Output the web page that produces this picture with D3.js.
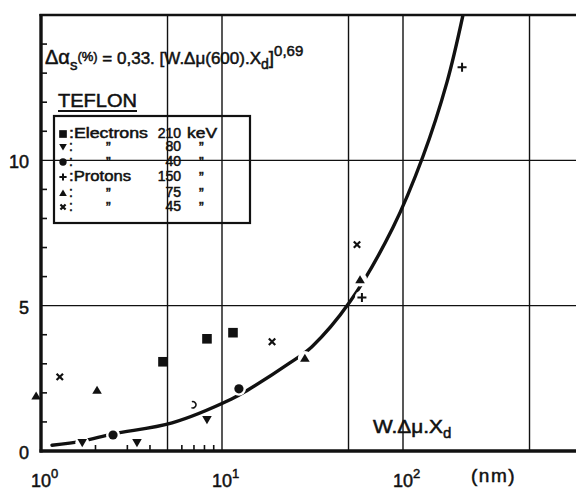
<!DOCTYPE html>
<html><head><meta charset="utf-8">
<script src="https://cdn.jsdelivr.net/npm/d3@7"></script>
<style>
body{margin:0;background:#fff}
text{font-family:"Liberation Sans",Arial,sans-serif;fill:#111;stroke:#111;stroke-width:0.5}
</style>
</head><body>
<svg id="chart" width="576" height="491"></svg>
<script>
// ---- data ----
const xTickValues = [1, 10, 100];
const xTickExponents = ["0", "1", "2"];
const yTickValues = [0, 5, 10];
const yTickLabels = ["0", "5", "10"];
const xGridValues = [5, 10, 50, 100, 500];
const yGridValues = [5, 10];
const yMinorTicks = [1,2,3,4,6,7,8,9,11,12,13,14];
const xMinorTicks = [2,3,4,6,7,8,9];

// Electrons 210 keV (square)
const e210X = [4.72, 8.26, 11.5];
const e210Y = [3.07, 3.86, 4.07];
// Electrons 80 keV (down triangle)
const e80X = [1.69, 3.39, 8.26];
const e80Y = [0.28, 0.28, 1.07];
// Electrons 40 keV (dot)
const e40X = [2.5, 12.4];
const e40Y = [0.55, 2.14];
// Electrons 40 keV, damaged (open) dot
const e40OpenX = [6.9];
const e40OpenY = [1.59];
// Protons 150 keV (+)
const p150X = [59.3, 212];
const p150Y = [5.28, 13.2];
// Protons 75 keV (up triangle)
const p75X = [0.94, 2.04, 28.7, 57.9];
const p75Y = [1.9, 2.1, 3.2, 5.9];
// Protons 45 keV (x)
const p45X = [1.27, 18.9, 55.7];
const p45Y = [2.55, 3.76, 7.1];

// fitted curve (hand drawn)
const curveX = [1.15, 1.69, 2.5, 5.3, 11.3, 13.9, 23.7, 31.4, 51, 88, 129, 175, 214];
const curveY = [0.2, 0.34, 0.59, 0.97, 1.79, 2.1, 3.03, 3.59, 5.14, 7.69, 10.14, 12.69, 14.97];

const legendSymbols = ["square", "down", "dot", "plus", "up", "cross"];
const legendNames = [":Electrons", ":", ":", ":Protons", ":", ":"];
const legendDitto = ["", "\u201D", "\u201D", "", "\u201D", "\u201D"];
const legendEnergies = ["210", "80", "40", "150", "75", "45"];
const legendUnits = ["keV", "\u201D", "\u201D", "\u201D", "\u201D", "\u201D"];

// ---- drawing ----
const svg = d3.select("#chart");
const W = 576, H = 491;
const x = d3.scaleLog().domain([1, 1000]).range([41, 584]);
const y = d3.scaleLinear().domain([0, 15]).range([451, 15]);
const x0 = x(1), yTop = y(15), yBot = y(0);

const gCurve = svg.append("g");
const gHalo = svg.append("g");
const gGrid = svg.append("g");
const gMarks = svg.append("g");
const gAxes = svg.append("g");
const gText = svg.append("g");

// curve
const pts = curveX.map((v, i) => [x(v), y(curveY[i])]);
gCurve.append("path")
  .attr("d", d3.line().curve(d3.curveCatmullRom.alpha(0.5))(pts))
  .attr("fill", "none").attr("stroke", "#111").attr("stroke-width", 3.4)
  .attr("stroke-linecap", "round");

// series list
const series = [
  {sym: "square", xs: e210X, ys: e210Y},
  {sym: "down", xs: e80X, ys: e80Y},
  {sym: "dot", xs: e40X, ys: e40Y},
  {sym: "open", xs: e40OpenX, ys: e40OpenY},
  {sym: "plus", xs: p150X, ys: p150Y},
  {sym: "up", xs: p75X, ys: p75Y},
  {sym: "cross", xs: p45X, ys: p45Y}
];

// white halos cut the curve where the draftsman left gaps around markers
series.forEach(s => {
  s.xs.forEach((v, i) => {
    if (v < 1) return;
    gHalo.append("circle").attr("cx", x(v)).attr("cy", y(s.ys[i]))
      .attr("r", s.sym === "square" || s.sym === "cross" ? 0 : 7).attr("fill", "#fff");
  });
});

// grid
gGrid.selectAll("line.v").data(xGridValues).join("line")
  .attr("x1", d => x(d)).attr("x2", d => x(d)).attr("y1", yTop).attr("y2", yBot)
  .attr("stroke", "#111").attr("stroke-width", 1.4);
gGrid.selectAll("line.h").data(yGridValues).join("line")
  .attr("x1", x0).attr("x2", W).attr("y1", d => y(d)).attr("y2", d => y(d))
  .attr("stroke", "#111").attr("stroke-width", 1.4);

function drawMarker(g, sym, cx, cy, scale) {
  const k = scale || 1;
  if (sym === "square") {
    g.append("rect").attr("x", cx - 4.8 * k).attr("y", cy - 4.8 * k)
      .attr("width", 9.6 * k).attr("height", 9.6 * k).attr("fill", "#111");
  } else if (sym === "dot") {
    g.append("circle").attr("cx", cx).attr("cy", cy).attr("r", 4.6 * k).attr("fill", "#111");
  } else if (sym === "open") {
    g.append("path").attr("d", d3.arc()({innerRadius: 2.4, outerRadius: 4, startAngle: -0.3, endAngle: 3.6}))
      .attr("transform", `translate(${cx},${cy})`).attr("fill", "#111");
  } else if (sym === "down" || sym === "up") {
    const s = 4.8 * k, dir = sym === "up" ? -1 : 1;
    g.append("path").attr("d", `M${cx - s},${cy - dir * s * 0.8}L${cx + s},${cy - dir * s * 0.8}L${cx},${cy + dir * s * 0.9}Z`)
      .attr("fill", "#111");
  } else if (sym === "plus") {
    const s = 4.5 * k;
    g.append("path").attr("d", `M${cx - s},${cy}H${cx + s}M${cx},${cy - s}V${cy + s}`)
      .attr("stroke", "#111").attr("stroke-width", 2);
  } else if (sym === "cross") {
    const s = 3.2 * k;
    g.append("path").attr("d", `M${cx - s},${cy - s}L${cx + s},${cy + s}M${cx + s},${cy - s}L${cx - s},${cy + s}`)
      .attr("stroke", "#111").attr("stroke-width", 2.2);
  }
}

series.forEach(s => s.xs.forEach((v, i) => drawMarker(gMarks, s.sym, x(v), y(s.ys[i]))));

// axes / frame
gAxes.append("line").attr("x1", x0).attr("x2", x0).attr("y1", yTop - 1).attr("y2", yBot + 1.5)
  .attr("stroke", "#111").attr("stroke-width", 3.4);
gAxes.append("line").attr("x1", x0 - 1.5).attr("x2", W).attr("y1", yBot).attr("y2", yBot)
  .attr("stroke", "#111").attr("stroke-width", 3.4);
gAxes.append("line").attr("x1", x0 - 1.5).attr("x2", W).attr("y1", yTop).attr("y2", yTop)
  .attr("stroke", "#111").attr("stroke-width", 2.4);
// minor ticks
gAxes.selectAll("line.ym").data(yMinorTicks).join("line")
  .attr("x1", x0).attr("x2", x0 + 6).attr("y1", d => y(d)).attr("y2", d => y(d))
  .attr("stroke", "#111").attr("stroke-width", 1.6);
gAxes.selectAll("line.xm").data(xMinorTicks).join("line")
  .attr("x1", d => x(d)).attr("x2", d => x(d)).attr("y1", yBot).attr("y2", yBot - 6)
  .attr("stroke", "#111").attr("stroke-width", 1.6);

// y tick labels
gText.selectAll("text.yl").data(yTickValues).join("text")
  .attr("x", 29).attr("y", d => y(d) + 8).attr("text-anchor", "end")
  .attr("font-size", 18).text((d, i) => yTickLabels[i]);

// x tick labels: 10^n
xTickValues.forEach((v, i) => {
  const t = gText.append("text").attr("x", x(v) - 10).attr("y", 487).attr("font-size", 18);
  t.append("tspan").text("10");
  t.append("tspan").attr("dy", -9).attr("font-size", 13).text(xTickExponents[i]);
});
gText.append("text").attr("x", 471).attr("y", 482).attr("font-size", 19)
  .attr("letter-spacing", 1.5).text("(nm)");

// axis title inside plot
{
  const t = gText.append("text").attr("x", 373).attr("y", 433).attr("font-size", 18);
  t.append("tspan").attr("textLength", 70).attr("lengthAdjust", "spacingAndGlyphs").text("W.\u0394\u03BC.X");
  t.append("tspan").attr("dy", 5).attr("font-size", 15).text("d");
}

// formula
{
  const t = gText.append("text").attr("x", 45).attr("y", 64).attr("font-size", 17);
  t.append("tspan").attr("font-size", 20).text("\u0394\u03B1");
  t.append("tspan").attr("dy", 6).attr("font-size", 15).text("s");
  t.append("tspan").attr("dy", -9).attr("font-size", 13).text("(%)");
  t.append("tspan").attr("dy", 3).text(" = 0,33. [W.\u0394\u03BC(600).X");
  t.append("tspan").attr("dy", 5).attr("font-size", 14).text("d");
  t.append("tspan").attr("dy", -5).attr("font-size", 19).text("]");
  t.append("tspan").attr("dy", -8).attr("font-size", 15).text("0,69");
}

// TEFLON title
gText.append("text").attr("x", 58).attr("y", 107).attr("font-size", 19)
  .attr("textLength", 79).attr("lengthAdjust", "spacingAndGlyphs").text("TEFLON");
gText.append("line").attr("x1", 58).attr("x2", 137).attr("y1", 111).attr("y2", 111)
  .attr("stroke", "#111").attr("stroke-width", 2);

// legend
const lg = svg.append("g");
lg.append("rect").attr("x", 54).attr("y", 116).attr("width", 196).attr("height", 107)
  .attr("fill", "none").attr("stroke", "#111").attr("stroke-width", 2.2);
const rowBase = [138, 151, 166, 181, 197, 211];
legendSymbols.forEach((sym, i) => {
  drawMarker(lg, sym, 63, rowBase[i] - 4, 0.8);
  const nameT = lg.append("text").attr("x", 69).attr("y", rowBase[i]).attr("font-size", 14).text(legendNames[i]);
  if (legendNames[i].length > 1) nameT.attr("textLength", legendNames[i] === ":Electrons" ? 79 : 62).attr("lengthAdjust", "spacingAndGlyphs");
  if (legendDitto[i]) lg.append("text").attr("x", 106).attr("y", rowBase[i] + 1).attr("font-size", 14).text(legendDitto[i]);
  lg.append("text").attr("x", 181).attr("y", rowBase[i]).attr("text-anchor", "end").attr("font-size", 14).text(legendEnergies[i]);
  const u = lg.append("text").attr("x", legendUnits[i] === "keV" ? 187 : 199).attr("y", rowBase[i] + (legendUnits[i] === "keV" ? 0 : 1)).attr("font-size", 14).text(legendUnits[i]);
  if (legendUnits[i] === "keV") u.attr("textLength", 30).attr("lengthAdjust", "spacingAndGlyphs");
});
</script>
</body></html>
